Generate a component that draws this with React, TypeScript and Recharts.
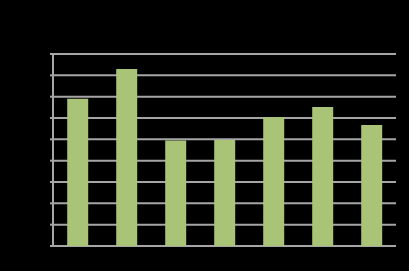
import React from 'react';
import { BarChart, Bar, XAxis, YAxis, CartesianGrid } from 'recharts';

// labels are drawn black on black in the reference, so they are not readable
const categories = ['1', '2', '3', '4', '5', '6', '7'];
const values = [6.9, 8.3, 4.95, 4.97, 6.05, 6.52, 5.67];
const yTicks = [0, 1, 2, 3, 4, 5, 6, 7, 8, 9];
const boundaryTicks = [0, 1, 2, 3, 4, 5, 6, 7];

const GRID = '#a6a6a6';
const BAR = '#a9c477';

const data = categories.map((name, i) => ({ name, value: values[i] }));

export default function App() {
  return (
    <div style={{ position: 'fixed', left: 0, top: 0, width: 409, height: 271, background: '#000' }}>
      <BarChart
        width={409}
        height={271}
        data={data}
        margin={{ top: 54, right: 13, bottom: 0, left: 0 }}
        barCategoryGap="29%"
      >
        <CartesianGrid vertical={false} stroke={GRID} strokeWidth={2} xAxisId="cat" />
        <XAxis xAxisId="cat" dataKey="name" hide />
        <XAxis
          xAxisId="num"
          type="number"
          domain={[0, 7]}
          ticks={boundaryTicks}
          interval={0}
          height={25}
          stroke={GRID}
          strokeWidth={2}
          tickSize={3}
          tick={{ fill: '#000', fontSize: 10 }}
          tickFormatter={() => ''}
        />
        <YAxis
          domain={[0, 9]}
          ticks={yTicks}
          interval={0}
          width={53}
          stroke={GRID}
          strokeWidth={2}
          tickSize={3}
          tick={{ fill: '#000', fontSize: 10 }}
        />
        <Bar xAxisId="cat" dataKey="value" fill={BAR} isAnimationActive={false} />
      </BarChart>
    </div>
  );
}
